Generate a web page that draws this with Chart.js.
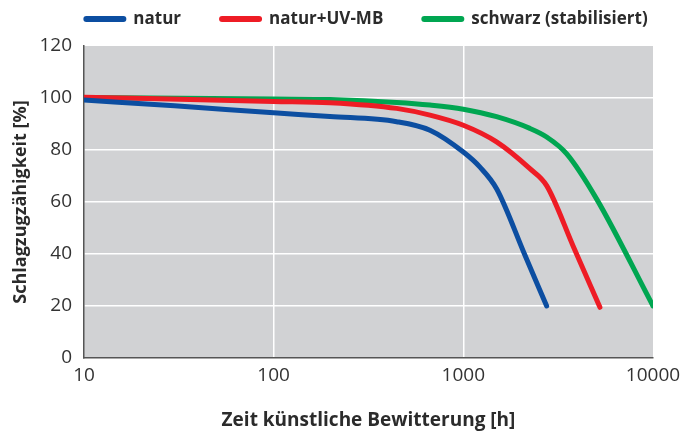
<!DOCTYPE html>
<html>
<head>
<meta charset="utf-8">
<script src="https://cdn.jsdelivr.net/npm/chart.js@4.4.1/dist/chart.umd.min.js"></script>
<style>
  html, body { margin: 0; padding: 0; background: #fff; }
  #wrap { width: 697px; height: 435px; position: relative; }
</style>
</head>
<body>
<div id="wrap"><canvas id="chart"></canvas></div>
<script>
// Schlagzugzähigkeit über Bewitterungszeit (log. Zeitachse)
const seriesNames = ['natur', 'natur+UV-MB', 'schwarz (stabilisiert)'];
const seriesColors = ['#0c4ea1', '#ee1c25', '#00a651'];

const naturHours = [10, 30, 100, 198, 445, 667, 1000, 1224, 1500, 2100, 2750];
const naturValues = [99.2, 97.0, 94.3, 92.9, 90.9, 87.6, 79.2, 73.4, 65.0, 40.0, 20];

const uvHours = [10, 100, 198, 445, 667, 1000, 1497, 2244, 2750, 3800, 5250];
const uvValues = [100.3, 98.7, 98.2, 96.0, 93.4, 89.5, 83.1, 72.8, 66.3, 42.9, 19.5];

const schwarzHours = [10, 100, 198, 445, 667, 1000, 1497, 2244, 2750, 3500, 5040, 10000];
const schwarzValues = [100.2, 99.6, 99.4, 98.3, 97.3, 95.7, 92.8, 88.3, 85.0, 78.6, 61.2, 20];

const xTicks = [10, 100, 1000, 10000];
const yTicks = [0, 20, 40, 60, 80, 100, 120];

const toPoints = (hs, vs) => hs.map((h, i) => ({ x: h, y: vs[i] }));
const allSeries = [
  toPoints(naturHours, naturValues),
  toPoints(uvHours, uvValues),
  toPoints(schwarzHours, schwarzValues)
];

// grey plot area
const plotBg = {
  id: 'plotBg',
  beforeDraw(chart) {
    const { ctx, chartArea: a } = chart;
    ctx.save();
    ctx.fillStyle = '#d1d2d4';
    ctx.fillRect(a.left, a.top, a.right - a.left, a.bottom - a.top);
    ctx.restore();
  }
};

// legend row above the plot: thick rounded strokes + bold names
const topLegend = {
  id: 'topLegend',
  afterDraw(chart) {
    const { ctx, chartArea: a } = chart;
    const lineLen = 43, gapText = 7, gapItem = 38, y = 19;
    ctx.save();
    ctx.font = 'bold 17px "Open Sans", sans-serif';
    ctx.textBaseline = 'middle';
    const items = chart.data.datasets.map(ds => ({
      label: ds.label, color: ds.borderColor, w: ctx.measureText(ds.label).width
    }));
    const total = items.reduce((s, it) => s + lineLen + gapText + it.w, 0) + gapItem * (items.length - 1);
    let x = (a.left + a.right) / 2 - total / 2 - 3;
    items.forEach(it => {
      ctx.strokeStyle = it.color;
      ctx.lineWidth = 6;
      ctx.lineCap = 'round';
      ctx.beginPath();
      ctx.moveTo(x + 3, y);
      ctx.lineTo(x + lineLen - 3, y);
      ctx.stroke();
      ctx.fillStyle = '#2b2b2b';
      ctx.fillText(it.label, x + lineLen + gapText, y);
      x += lineLen + gapText + it.w + gapItem;
    });
    ctx.restore();
  }
};

new Chart(document.getElementById('chart'), {
  type: 'line',
  data: {
    datasets: allSeries.map((pts, i) => ({
      label: seriesNames[i],
      data: pts,
      borderColor: seriesColors[i],
      backgroundColor: seriesColors[i],
      borderWidth: 5,
      borderCapStyle: 'round',
      borderJoinStyle: 'round',
      pointRadius: 0,
      cubicInterpolationMode: 'monotone',
      fill: false
    }))
  },
  options: {
    responsive: true,
    maintainAspectRatio: false,
    animation: false,
    layout: { padding: { top: 46, right: 44, left: 0, bottom: 0 } },
    plugins: {
      legend: { display: false },
      tooltip: { enabled: false }
    },
    scales: {
      x: {
        type: 'logarithmic',
        min: 10,
        max: 10000,
        afterBuildTicks: s => { s.ticks = xTicks.map(v => ({ value: v })); },
        afterFit: s => { s.height = 77; },
        ticks: {
          padding: 6,
          color: '#333',
          font: { family: '"Open Sans", sans-serif', size: 19 },
          callback: v => String(v),
          maxRotation: 0
        },
        grid: {
          drawTicks: false,
          lineWidth: 1.5,
          color: c => (c.tick && (c.tick.value === 100 || c.tick.value === 1000)) ? '#ffffff' : 'rgba(0,0,0,0)'
        },
        border: { color: '#555', width: 1.5 },
        title: {
          display: true,
          text: 'Zeit künstliche Bewitterung [h]',
          color: '#2b2b2b',
          font: { family: '"Open Sans", sans-serif', size: 19, weight: 'bold' },
          padding: { top: 0, bottom: 3 }
        }
      },
      y: {
        min: 0,
        max: 120,
        afterBuildTicks: s => { s.ticks = yTicks.map(v => ({ value: v })); },
        afterFit: s => { s.width = 84; },
        ticks: {
          padding: 12,
          color: '#333',
          font: { family: '"Open Sans", sans-serif', size: 19 }
        },
        grid: {
          drawTicks: false,
          lineWidth: 1.5,
          color: c => (c.tick && c.tick.value > 0 && c.tick.value < 120) ? '#ffffff' : 'rgba(0,0,0,0)'
        },
        border: { color: '#555', width: 1.5 },
        title: {
          display: true,
          text: 'Schlagzugzähigkeit [%]',
          color: '#2b2b2b',
          font: { family: '"Open Sans", sans-serif', size: 18, weight: 'bold' },
          padding: { top: 10, bottom: 0 }
        }
      }
    }
  },
  plugins: [plotBg, topLegend]
});
</script>
</body>
</html>
